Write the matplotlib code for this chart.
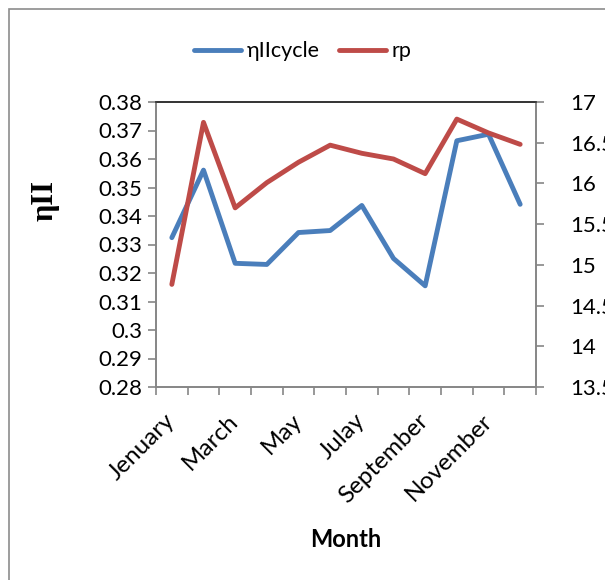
import numpy as np
import matplotlib.pyplot as plt
from matplotlib.patches import Rectangle

months = ['Jenuary', 'February', 'March', 'April', 'May', 'June',
          'Julay', 'August', 'September', 'October', 'November', 'December']
eta_cycle = [0.3324, 0.3561, 0.3234, 0.3230, 0.3342, 0.3349,
             0.3437, 0.3251, 0.3155, 0.3664, 0.3687, 0.3441]
rp = [14.76, 16.75, 15.70, 16.01, 16.26, 16.47,
      16.37, 16.30, 16.12, 16.79, 16.62, 16.48]

plt.rcParams['font.family'] = ['Lato', 'DejaVu Sans']

fig = plt.figure(figsize=(6.05, 5.8), dpi=100)
fig.patches.append(Rectangle((8.5 / 605, -0.1), 1.1, 1.1 - 0.1 + 0.0845,
                             transform=fig.transFigure, fill=False,
                             edgecolor='#8c8c8c', linewidth=1.2))

ax = fig.add_axes([156 / 605, 1 - 387 / 580, 380 / 605, 285 / 580])
ax2 = ax.twinx()

x = np.arange(1, 13)
l1, = ax.plot(x, eta_cycle, color='#4A7EBB', lw=3.5, solid_capstyle='round',
              solid_joinstyle='round', label='ηIIcycle')
l2, = ax2.plot(x, rp, color='#BE4B48', lw=3.5, solid_capstyle='round',
               solid_joinstyle='round', label='rp')

ax.set_xlim(0.5, 12.5)
ax.set_ylim(0.28, 0.38)
ax.set_yticks(np.arange(0.28, 0.3801, 0.01))
ax.set_yticklabels(['0.28', '0.29', '0.3', '0.31', '0.32', '0.33',
                    '0.34', '0.35', '0.36', '0.37', '0.38'])
ax2.set_ylim(13.5, 17)
ax2.set_yticks(np.arange(13.5, 17.01, 0.5))
ax2.set_yticklabels(['13.5', '14', '14.5', '15', '15.5', '16', '16.5', '17'])

# boundary ticks between months, labels on every other month
ax.set_xticks(np.arange(0.5, 13, 1))
ax.set_xticklabels([])
ax.set_xticks(x[::2], minor=True)
ax.set_xticklabels(months[::2], minor=True, rotation=45, ha='right',
                   va='center', rotation_mode='anchor', fontsize=17.5)
ax.tick_params(axis='x', which='minor', length=0, pad=22)

for a in (ax, ax2):
    for s in a.spines.values():
        s.set_color('#868686')
        s.set_linewidth(1.2)
    a.spines['top'].set_color('#333333')
    a.tick_params(axis='both', which='major', length=6, width=1.2,
                  color='#868686', labelsize=16, pad=4)
ax2.tick_params(axis='y', pad=18.5)

ax.set_ylabel('ηII', family='Liberation Serif', fontweight='bold', fontsize=22)
ax.yaxis.set_label_coords(-0.253, 0.656)
ax.set_xlabel('Month', fontweight='bold', fontsize=17, labelpad=15)

fig.legend(handles=[l1, l2], loc='center', bbox_to_anchor=(0.5, 0.912),
           ncol=2, frameon=False, fontsize=15.5, handlelength=2.2,
           handletextpad=0.25, columnspacing=0.9)

fig.savefig('out.png', dpi=100)
